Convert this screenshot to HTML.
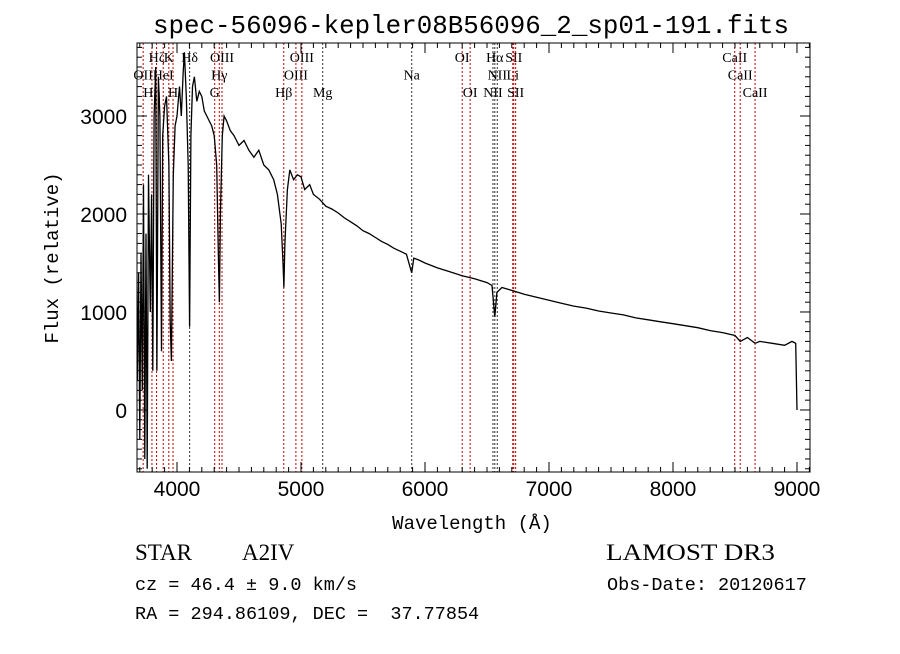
<!DOCTYPE html>
<html><head><meta charset="utf-8"><style>
body{margin:0;background:#fff;}
svg text{font-family:"Liberation Serif",serif;}
</style></head><body>
<svg id="chart" width="900" height="649" xmlns="http://www.w3.org/2000/svg">
<rect width="900" height="649" fill="#fff"/>
<text x="471" y="33" text-anchor="middle" font-size="26" textLength="636" lengthAdjust="spacingAndGlyphs" style="font-family:'Liberation Mono',monospace">spec-56096-kepler08B56096_2_sp01-191.fits</text>
<text x="472" y="529" text-anchor="middle" font-size="19" style="font-family:'Liberation Mono',monospace">Wavelength (Å)</text>
<text transform="translate(58,258) rotate(-90)" text-anchor="middle" font-size="19" style="font-family:'Liberation Mono',monospace">Flux (relative)</text>
<text x="135" y="560" font-size="23">STAR</text>
<text x="242" y="560" font-size="23">A2IV</text>
<text x="606" y="560" font-size="23" textLength="169" lengthAdjust="spacingAndGlyphs">LAMOST DR3</text>
<text x="135" y="590" font-size="18.5" style="font-family:'Liberation Mono',monospace">cz = 46.4 ± 9.0 km/s</text>
<text x="607" y="590" font-size="18.5" style="font-family:'Liberation Mono',monospace">Obs-Date: 20120617</text>
<text x="135" y="619" font-size="18.5" style="font-family:'Liberation Mono',monospace" xml:space="preserve">RA = 294.86109, DEC =  37.77854</text>
<g id="plot"></g>
</svg>
<script>
const wavelengths=[3680,3690,3700,3710,3720,3730,3740,3750,3760,3770,3785,3795,3805,3815,3828,3838,3850,3862,3875,3885,3900,3915,3935,3945,3955,3970,3985,4000,4020,4035,4050,4060,4075,4090,4102,4112,4125,4140,4160,4180,4200,4220,4240,4260,4280,4300,4320,4335,4342,4350,4365,4380,4400,4430,4460,4500,4540,4580,4620,4660,4700,4740,4780,4810,4840,4855,4862,4870,4890,4910,4940,4970,5000,5030,5070,5100,5150,5200,5250,5300,5350,5400,5450,5500,5550,5600,5650,5700,5750,5800,5850,5893,5910,5950,6000,6100,6200,6300,6400,6500,6540,6563,6580,6620,6700,6800,6900,7000,7100,7200,7300,7400,7500,7600,7700,7800,7900,8000,8100,8200,8300,8400,8500,8542,8600,8662,8700,8800,8900,8960,8990,9000];
const fluxes=[300,1400,-300,1600,200,2300,-500,1800,-600,2400,1000,2200,400,3000,3500,400,3400,3000,600,2800,3100,3200,2500,900,500,2400,2900,3000,3300,3000,3450,3650,3200,2500,850,2800,3300,3400,3150,3250,3200,3050,3000,2950,2900,2800,2500,1500,1100,2000,2800,3000,2950,2850,2800,2700,2750,2650,2580,2650,2500,2450,2350,2200,1900,1500,1250,1700,2250,2450,2350,2400,2380,2250,2300,2200,2150,2080,2050,2010,1960,1920,1880,1830,1800,1760,1720,1690,1650,1620,1590,1400,1550,1530,1500,1450,1410,1370,1340,1300,1270,950,1200,1250,1220,1180,1150,1120,1090,1060,1040,1010,990,970,940,920,900,880,860,840,810,790,760,700,740,680,700,680,660,700,680,0];
const xTicks=[4000,5000,6000,7000,8000,9000];
const yTicks=[0,1000,2000,3000];
const lineWaves=[3727,3798,3835,3889,3934,3968,4102,4304,4341,4363,4861,4959,5007,5175,5893,6300,6364,6548,6563,6583,6708,6716,6731,8498,8542,8662];
const lineNames=["OII","H\u03b7","H\u03b6","HeI","K","H","H\u03b4","G","H\u03b3","OIII","H\u03b2","OIII","OIII","Mg","Na","OI","OI","NII","H\u03b1","NII","Li","SII","SII","CaII","CaII","CaII"];
const lineRows=[1,2,0,1,0,2,0,2,1,0,2,1,0,2,1,0,2,2,0,1,1,0,2,0,1,2];
const lineRed=[1,1,1,1,1,1,0,1,1,1,1,1,1,0,0,1,1,0,0,0,1,1,1,1,1,1];

const L=137,R=810,T=43,B=472;
const xMin=3677.4,xMax=9105,yMin=-633,yMax=3745;
const xs=v=>L+(v-xMin)/(xMax-xMin)*(R-L);
const ys=v=>B-(v-yMin)/(yMax-yMin)*(B-T);
const NS="http://www.w3.org/2000/svg";
const g=document.getElementById('plot');
function mk(t,a){const e=document.createElementNS(NS,t);for(const k in a)e.setAttribute(k,a[k]);g.appendChild(e);return e;}
const clip=mk('clipPath',{id:'c'});
const cr=document.createElementNS(NS,'rect');cr.setAttribute('x',L);cr.setAttribute('y',T);cr.setAttribute('width',R-L);cr.setAttribute('height',B-T);clip.appendChild(cr);
lineWaves.forEach((w,i)=>{
  const x=xs(w);
  const l=mk('line',{x1:x,x2:x,y1:T,y2:B,stroke:lineRed[i]?'#c00000':'#333',"stroke-width":1,"stroke-dasharray":"2,2"});
  
  
  const t=mk('text',{x:x,y:62+lineRows[i]*17.5,"text-anchor":"middle","font-size":14});
  t.textContent=lineNames[i];
  
  
});
let d='';wavelengths.forEach((w,i)=>{d+=(i?'L':'M')+xs(w).toFixed(1)+','+ys(fluxes[i]).toFixed(1);});
const p=mk('path',{d:d,fill:'none',stroke:'#000',"stroke-width":1.3,"clip-path":"url(#c)"});


const fr=mk('rect',{x:L,y:T,width:R-L,height:B-T,fill:'none',stroke:'#000',"stroke-width":1});


for(let w=3700;w<=9100;w+=100){const x=xs(w);const maj=w%1000===0;const len=maj?10:5;
  mk('line',{x1:x,x2:x,y1:B,y2:B-len,stroke:'#000'});mk('line',{x1:x,x2:x,y1:T,y2:T+len,stroke:'#000'});}
xTicks.forEach(v=>{const t=mk('text',{x:xs(v),y:B+24,"text-anchor":"middle","font-size":21,style:"font-family:'Liberation Sans',sans-serif"});t.textContent=v;
  
  });
for(let v=-600;v<=3700;v+=100){const y=ys(v);const maj=v%1000===0;const len=maj?10:5;
  mk('line',{x1:L,x2:L+len,y1:y,y2:y,stroke:'#000'});mk('line',{x1:R,x2:R-len,y1:y,y2:y,stroke:'#000'});}
yTicks.forEach(v=>{const t=mk('text',{x:L-10,y:ys(v)+8,"text-anchor":"end","font-size":21,style:"font-family:'Liberation Sans',sans-serif"});t.textContent=v;
  
  });
</script>
</body></html>
